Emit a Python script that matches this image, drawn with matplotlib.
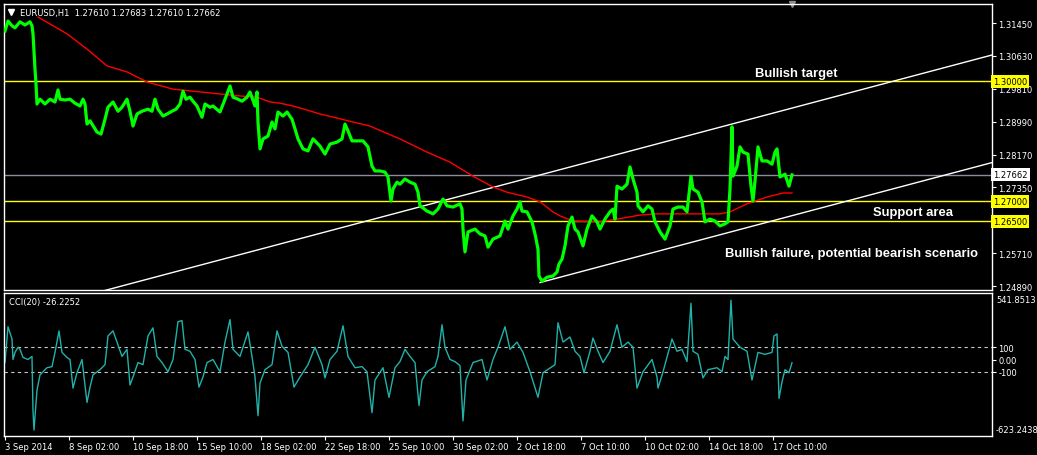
import matplotlib
matplotlib.use('Agg')
import matplotlib.pyplot as plt
import matplotlib.transforms as mtransforms

# EURUSD H1 - close path (bar index, price)
price_bar = [5, 8, 12, 15, 20, 25, 30, 32, 33, 35, 36, 37, 40, 45, 50, 55, 58, 60, 65, 70,
             75, 80, 83, 85, 87, 90, 95, 97, 101, 105, 108, 113, 118, 122, 127, 130, 133, 137, 142, 148,
             152, 155, 158, 163, 167, 172, 176, 180, 183, 186, 190, 193, 197, 202, 205, 210, 213, 220, 225, 230,
             233, 238, 242, 247, 250, 255, 257, 258, 260, 263, 268, 272, 275, 278, 283, 287, 292, 295, 298, 303,
             308, 313, 320, 325, 330, 337, 342, 345, 348, 352, 358, 363, 368, 372, 375, 380, 385, 388, 391, 393,
             397, 400, 405, 410, 415, 418, 420, 427, 433, 438, 443, 447, 453, 460, 462, 463, 465, 468, 475, 480,
             485, 488, 493, 500, 505, 508, 513, 517, 520, 522, 527, 532, 535, 538, 539, 542, 547, 553, 557, 559,
             562, 565, 568, 572, 575, 578, 583, 587, 592, 597, 600, 605, 610, 613, 615, 617, 622, 627, 630, 633,
             637, 638, 643, 648, 652, 655, 660, 665, 670, 673, 678, 683, 687, 691, 693, 698, 702, 705, 710, 715,
             720, 725, 728, 730, 732, 733, 737, 740, 743, 748, 751, 753, 755, 758, 762, 767, 772, 775, 777, 780,
             785, 789, 792]
price_val = [1.3125, 1.3150, 1.3138, 1.3133, 1.3148, 1.3140, 1.3148, 1.3138, 1.3118, 1.3030, 1.2993, 1.2943, 1.2955, 1.2943, 1.2955, 1.2948, 1.2978, 1.2955, 1.2953, 1.2955,
             1.2945, 1.2938, 1.2955, 1.2943, 1.2893, 1.2901, 1.2881, 1.2873, 1.2868, 1.2905, 1.2935, 1.2948, 1.2925, 1.2935, 1.2955, 1.2925, 1.2888, 1.2918, 1.2925, 1.2930,
             1.2925, 1.2955, 1.2930, 1.2913, 1.2918, 1.2925, 1.2930, 1.2943, 1.2975, 1.2955, 1.2960, 1.2950, 1.2938, 1.2910, 1.2943, 1.2935, 1.2938, 1.2923, 1.2955, 1.2988,
             1.2960, 1.2955, 1.2950, 1.2960, 1.2973, 1.2938, 1.2973, 1.2898, 1.2831, 1.2856, 1.2863, 1.2898, 1.2881, 1.2923, 1.2913, 1.2923, 1.2905, 1.2881, 1.2856, 1.2831,
             1.2826, 1.2856, 1.2838, 1.2818, 1.2843, 1.2848, 1.2856, 1.2893, 1.2876, 1.2851, 1.2851, 1.2851, 1.2836, 1.2788, 1.2776, 1.2776, 1.2773, 1.2761, 1.2701, 1.2731,
             1.2748, 1.2743, 1.2756, 1.2748, 1.2743, 1.2723, 1.2689, 1.2676, 1.2669, 1.2681, 1.2706, 1.2689, 1.2686, 1.2694, 1.2681, 1.2631, 1.2574, 1.2624, 1.2631, 1.2619,
             1.2614, 1.2586, 1.2606, 1.2614, 1.2651, 1.2631, 1.2664, 1.2681, 1.2699, 1.2676, 1.2674, 1.2649, 1.2619, 1.2581, 1.2514, 1.2501, 1.2511, 1.2514, 1.2524, 1.2544,
             1.2556, 1.2589, 1.2639, 1.2661, 1.2631, 1.2624, 1.2589, 1.2631, 1.2664, 1.2649, 1.2631, 1.2656, 1.2674, 1.2681, 1.2656, 1.2738, 1.2731, 1.2743, 1.2786, 1.2756,
             1.2723, 1.2689, 1.2674, 1.2689, 1.2681, 1.2649, 1.2624, 1.2606, 1.2639, 1.2681, 1.2686, 1.2686, 1.2674, 1.2763, 1.2731, 1.2723, 1.2699, 1.2649, 1.2656, 1.2651,
             1.2639, 1.2644, 1.2649, 1.2731, 1.2886, 1.2763, 1.2788, 1.2836, 1.2823, 1.2818, 1.2738, 1.2701, 1.2751, 1.2836, 1.2801, 1.2801, 1.2793, 1.2823, 1.2831, 1.2761,
             1.2768, 1.2738, 1.27662]

# moving average (red)
ma_bar = [38, 67, 87, 107, 127, 147, 173, 193, 220, 240, 257, 270, 280, 293, 307, 320, 337, 353, 370, 379,
          400, 427, 450, 473, 493, 507, 527, 540, 553, 560, 573, 600, 617, 640, 657, 700, 720, 730, 747, 767,
          783, 792]
ma_val = [1.3160, 1.3118, 1.3080, 1.3038, 1.3023, 1.2998, 1.2980, 1.2975, 1.2968, 1.2963, 1.2960, 1.2948, 1.2945, 1.2938, 1.2928, 1.2918, 1.2908, 1.2898, 1.2888, 1.2878,
          1.2856, 1.2823, 1.2798, 1.2763, 1.2736, 1.2723, 1.2711, 1.2699, 1.2674, 1.2664, 1.2651, 1.2649, 1.2656, 1.2666, 1.2669, 1.2669, 1.2669, 1.2674, 1.2694, 1.2711,
          1.2721, 1.2721]

# CCI(20)
cci_bar = [5, 8, 12, 13, 15, 18, 20, 23, 28, 32, 33, 34, 37, 40, 47, 52, 55, 59, 62, 67,
           70, 73, 77, 82, 87, 90, 93, 100, 105, 108, 113, 117, 122, 127, 130, 133, 138, 143, 148, 153,
           157, 162, 168, 173, 178, 182, 185, 190, 195, 199, 203, 207, 213, 220, 225, 230, 233, 240, 248, 252,
           255, 258, 260, 265, 272, 277, 282, 288, 294, 300, 308, 315, 322, 325, 330, 337, 343, 348, 355, 362,
           367, 372, 375, 383, 389, 395, 400, 405, 410, 415, 419, 422, 427, 435, 438, 442, 445, 450, 455, 460,
           463, 466, 473, 482, 487, 493, 498, 505, 510, 517, 523, 530, 538, 543, 555, 558, 563, 570, 575, 580,
           584, 590, 593, 598, 603, 610, 617, 622, 628, 633, 637, 643, 652, 657, 658, 663, 672, 677, 682, 687,
           691, 693, 698, 703, 708, 717, 722, 725, 728, 731, 733, 740, 747, 752, 758, 765, 772, 774, 777, 779,
           782, 785, 789, 792]
cci_val = [-25, 267, 167, 0, 58, 100, 83, 17, 0, 25, -417, -575, -250, -125, -67, -58, 58, 233, 58, 17,
           0, -233, -108, 0, -350, -225, -125, -83, -42, 192, 233, 142, 25, 83, -208, -142, -25, -42, 192, 258,
           25, -25, -100, 0, 308, 317, 83, 67, 0, -225, -142, -25, 0, -100, 142, 325, 83, 25, 225, 25,
           -142, -458, -192, -83, -42, 233, 108, 58, -225, -142, -42, 100, -42, -150, 0, 67, 275, 25, -67, -58,
           -100, -433, -167, -67, -308, -67, -17, 83, 25, -25, -375, -167, -100, -58, 25, 283, 100, 0, -17, -50,
           -500, -167, -25, 0, -167, 0, 100, 267, 83, 142, 58, -100, -308, -108, -42, 300, 142, 183, 67, 25,
           -108, 67, 175, 67, -25, 67, 283, 100, 142, 100, -233, -100, 0, -142, -233, -100, 167, 67, 83, -17,
           458, 67, 42, -150, -83, -67, -100, 25, 0, 483, 167, 100, 67, -167, 58, 42, 58, 192, 208, -317,
           -183, -83, -108, -26.2252]

# horizontal levels, current price and channel
levels = [1.30000, 1.27000, 1.26500]
last_price = 1.27662
upper_bar = [100, 992]
upper_val = [1.24747, 1.30652]
lower_bar = [540, 992]
lower_val = [1.24977, 1.27969]

# notes placed on the chart (bar, price)
notes = ['Bullish target', 'Support area', 'Bullish failure, potential bearish scenario']
notes_bar = [796, 913, 851]
notes_val = [1.3020, 1.2674, 1.2571]

price_ticks = [1.31450, 1.30630, 1.29810, 1.28990, 1.28170, 1.27350, 1.25710, 1.24890]
cci_ticks = [100, 0, -100]
cci_max, cci_min = 541.8513, -623.2438
date_labels = ['3 Sep 2014', '8 Sep 02:00', '10 Sep 18:00', '15 Sep 10:00', '18 Sep 02:00',
               '22 Sep 18:00', '25 Sep 10:00', '30 Sep 02:00', '2 Oct 18:00', '7 Oct 10:00',
               '10 Oct 02:00', '14 Oct 18:00', '17 Oct 10:00']

W, H = 1037, 456
fig = plt.figure(figsize=(W / 100, H / 100), dpi=100, facecolor='black')
ax1 = fig.add_axes([4 / W, 1 - 291 / H, 988 / W, 286 / H])
ax2 = fig.add_axes([4 / W, 1 - 437 / H, 988 / W, 143 / H])

for ax in (ax1, ax2):
    ax.set_facecolor('black')
    for s in ax.spines.values():
        s.set_color('white')
        s.set_linewidth(1)
    ax.set_xlim(4, 992)
    ax.yaxis.tick_right()
    ax.tick_params(axis='y', colors='white', labelcolor='white', length=3, width=0.8,
                   labelsize=6, pad=1.5)

# --- main price panel
ax1.set_ylim(1.24791, 1.31924)
ax1.set_xticks([])
ax1.set_yticks(price_ticks)
ax1.set_yticklabels(['%.5f' % v for v in price_ticks])

right_tr = mtransforms.blended_transform_factory(ax1.transAxes, ax1.transData)
for lv in levels:
    ax1.axhline(lv, color='#ffff00', lw=1, zorder=1)
    ax1.text(1.001, lv, '%.5f' % lv, transform=right_tr,
             ha='left', va='center', fontsize=6, color='black', zorder=5, clip_on=False,
             bbox=dict(boxstyle='square,pad=0.25', fc='#ffff00', ec='none'))
ax1.axhline(last_price, color='#8c8c9c', lw=1, zorder=1)
ax1.text(1.001, last_price, '%.5f' % last_price, transform=right_tr,
         ha='left', va='center', fontsize=6, color='black', zorder=5, clip_on=False,
         bbox=dict(boxstyle='square,pad=0.25', fc='white', ec='none'))

ax1.plot(upper_bar, upper_val, color='white', lw=1, zorder=2)
ax1.plot(lower_bar, lower_val, color='white', lw=1, zorder=2)
ax1.plot(ma_bar, ma_val, color='#ff0000', lw=1, zorder=3)
ax1.plot(price_bar, price_val, color='#00ff00', lw=2.3, zorder=4)

for txt, b, v in zip(notes, notes_bar, notes_val):
    ax1.text(b, v, txt, ha='center', va='center', color='white', fontsize=9.4,
             fontweight='bold', family='Liberation Sans', zorder=6)

# header
ax1.plot([(11 - 4) / 988], [(291 - 13) / 286], marker='v', ms=4.5, color='white',
         transform=ax1.transAxes, clip_on=False)
ax1.text((20 - 4) / 988, (291 - 13) / 286, 'EURUSD,H1  1.27610 1.27683 1.27610 1.27662',
         transform=ax1.transAxes, color='white', fontsize=6, va='center', ha='left')
ax1.plot([price_bar[-1]], [1.0], marker='v', ms=5, color='#8c8c8c',
         transform=mtransforms.blended_transform_factory(ax1.transData, ax1.transAxes), clip_on=False)

# --- CCI panel
ax2.set_ylim(cci_min, cci_max)
ax2.set_yticks(cci_ticks)
ax2.set_yticklabels(['100', '0.00', '-100'])
for lv in (100, -100):
    ax2.axhline(lv, color='#c8c8c8', lw=0.8, ls=(0, (3, 3)))
ax2.plot(cci_bar, cci_val, color='#20b2aa', lw=1)
ax2.text(1.004, 0.985, '%.4f' % cci_max, transform=ax2.transAxes, ha='left', va='top',
         fontsize=6, color='white')
ax2.text(1.004, 0.015, '%.4f' % cci_min, transform=ax2.transAxes, ha='left', va='bottom',
         fontsize=6, color='white')
ax2.text((9 - 4) / 988, 1 - 9 / 143, 'CCI(20) %.4f' % cci_val[-1], transform=ax2.transAxes,
         color='white', fontsize=6, va='center', ha='left')

ax2.set_xticks([5 + 64 * i for i in range(len(date_labels))])
ax2.set_xticklabels(date_labels, ha='left')
ax2.tick_params(axis='x', colors='white', labelcolor='white', length=3, width=0.8,
                labelsize=6, pad=1.5)

fig.savefig('out.png', dpi=100, facecolor='black')
